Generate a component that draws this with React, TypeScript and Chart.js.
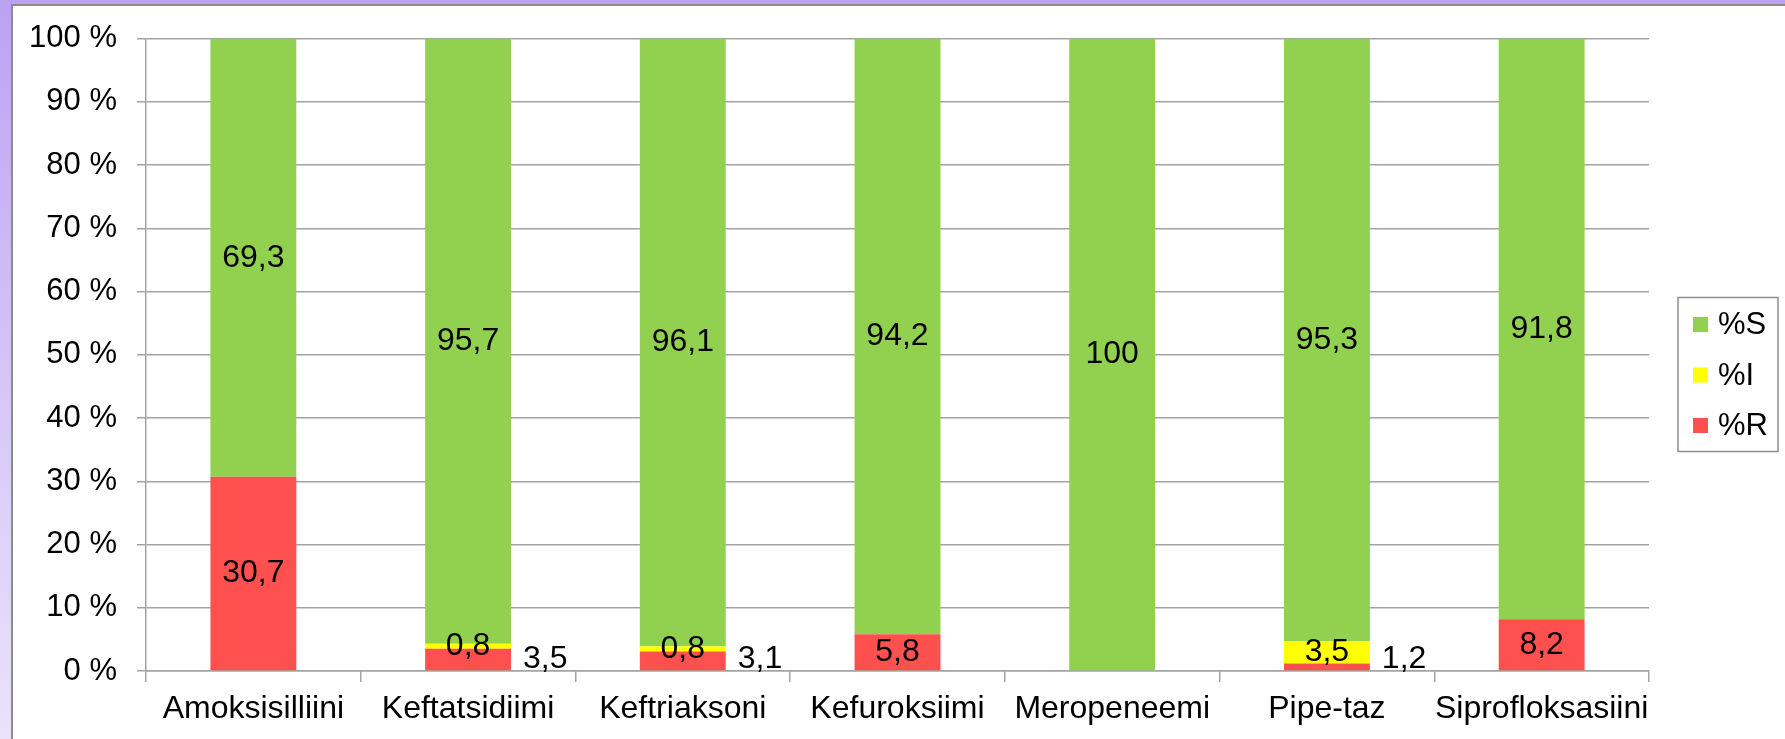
import React, { useEffect, useRef } from "react";
import { Chart, registerables } from "chart.js";

Chart.register(...registerables);

const categories = [
  "Amoksisilliini",
  "Keftatsidiimi",
  "Keftriaksoni",
  "Kefuroksiimi",
  "Meropeneemi",
  "Pipe-taz",
  "Siprofloksasiini",
];
const rValues = [30.7, 3.5, 3.1, 5.8, 0, 1.2, 8.2];
const iValues = [0, 0.8, 0.8, 0, 0, 3.5, 0];
const sValues = [69.3, 95.7, 96.1, 94.2, 100, 95.3, 91.8];
const yTicks = [0, 10, 20, 30, 40, 50, 60, 70, 80, 90, 100];

const GREEN = "#92D050";
const YELLOW = "#FFFF00";
const RED = "#FF5050";
const GRID = "#A3A3A3";
const FONT = "'Liberation Sans', Arial, sans-serif";
const FS = 32;
const TICK_FS = 31;
const LEGEND_FS = 31;

const fmt = (v: number) => String(v).replace(".", ",");

const labelPlugin = {
  id: "segLabels",
  afterDatasetsDraw(chart: any) {
    const ctx = chart.ctx;
    ctx.save();
    ctx.font = `${FS}px ${FONT}`;
    ctx.fillStyle = "#000";
    chart.data.datasets.forEach((ds: any, di: number) => {
      const meta = chart.getDatasetMeta(di);
      meta.data.forEach((bar: any, i: number) => {
        const v = ds.data[i];
        if (!v) return;
        const top = Math.min(bar.y, bar.base);
        const bot = Math.max(bar.y, bar.base);
        const cy = (top + bot) / 2;
        if (ds.label === "%R" && v < 4) {
          ctx.textAlign = "left";
          ctx.textBaseline = "alphabetic";
          ctx.fillText(fmt(v), bar.x + bar.width / 2 + 12, bot - 2);
        } else {
          ctx.textAlign = "center";
          ctx.textBaseline = "middle";
          ctx.fillText(fmt(v), bar.x, cy);
        }
      });
    });
    ctx.restore();
  },
};

const legendPlugin = {
  id: "boxLegend",
  afterDraw(chart: any) {
    const ctx = chart.ctx;
    const left = chart.chartArea.right + 29;
    const top = chart.height / 2 - 72;
    const w = 100;
    const h = 154;
    ctx.save();
    ctx.strokeStyle = "#8C8C8C";
    ctx.lineWidth = 1.5;
    ctx.strokeRect(left, top, w, h);
    const items = [...chart.data.datasets].reverse();
    ctx.font = `${LEGEND_FS}px ${FONT}`;
    ctx.textBaseline = "middle";
    ctx.textAlign = "left";
    items.forEach((ds: any, k: number) => {
      const cy = top + 27 + k * 50.5;
      ctx.fillStyle = ds.backgroundColor;
      ctx.fillRect(left + 15, cy - 7.5, 15, 15);
      ctx.fillStyle = "#000";
      ctx.fillText(ds.label, left + 40, cy + 1);
    });
    ctx.restore();
  },
};

export default function App() {
  const ref = useRef<HTMLCanvasElement>(null);
  useEffect(() => {
    document.body.style.margin = "0";
    document.body.style.overflow = "hidden";
    const chart = new Chart(ref.current!, {
      type: "bar",
      data: {
        labels: categories,
        datasets: [
          { label: "%R", data: rValues, backgroundColor: RED },
          { label: "%I", data: iValues, backgroundColor: YELLOW },
          { label: "%S", data: sValues, backgroundColor: GREEN },
        ],
      },
      options: {
        responsive: false,
        animation: false,
        devicePixelRatio: 1,
        layout: { padding: { left: 0, top: 35, right: 136, bottom: 0 } },
        datasets: { bar: { barPercentage: 0.4, categoryPercentage: 1 } },
        plugins: { legend: { display: false }, tooltip: { enabled: false } },
        scales: {
          x: {
            stacked: true,
            afterFit: (s: any) => {
              s.height = 68;
            },
            grid: {
              offset: true,
              drawOnChartArea: false,
              drawTicks: true,
              tickLength: 11,
              color: GRID,
              lineWidth: 1.5,
            },
            border: { display: true, color: GRID, width: 1.5 },
            ticks: {
              color: "#000",
              padding: 8,
              maxRotation: 0,
              autoSkip: false,
              font: { family: FONT, size: FS },
            },
          },
          y: {
            stacked: true,
            min: 0,
            max: 100,
            afterFit: (s: any) => {
              s.width = 146;
            },
            afterBuildTicks: (s: any) => {
              s.ticks = yTicks.map((v) => ({ value: v }));
            },
            grid: {
              drawTicks: true,
              tickLength: 9,
              color: GRID,
              lineWidth: 1.5,
            },
            border: { display: true, color: GRID, width: 1.5 },
            ticks: {
              color: "#000",
              padding: 20,
              font: { family: FONT, size: TICK_FS },
              callback: (v: any) => `${v} %`,
            },
          },
        },
      },
      plugins: [labelPlugin, legendPlugin],
    });
    return () => chart.destroy();
  }, []);

  return (
    <div
      style={{
        position: "relative",
        width: 1785,
        height: 739,
        overflow: "hidden",
        background: "linear-gradient(180deg, #BBA2F2 0%, #D9CBF8 60%, #EAE2FB 100%)",
      }}
    >
      <div
        style={{
          position: "absolute",
          left: 11,
          top: 4,
          right: 0,
          bottom: 0,
          background: "#FFFFFF",
          borderLeft: "2px solid #8C8C8C",
          borderTop: "2px solid #8C8C8C",
        }}
      />
      <canvas
        ref={ref}
        width={1785}
        height={739}
        style={{ position: "absolute", left: 0, top: 0, width: 1785, height: 739 }}
      />
    </div>
  );
}
